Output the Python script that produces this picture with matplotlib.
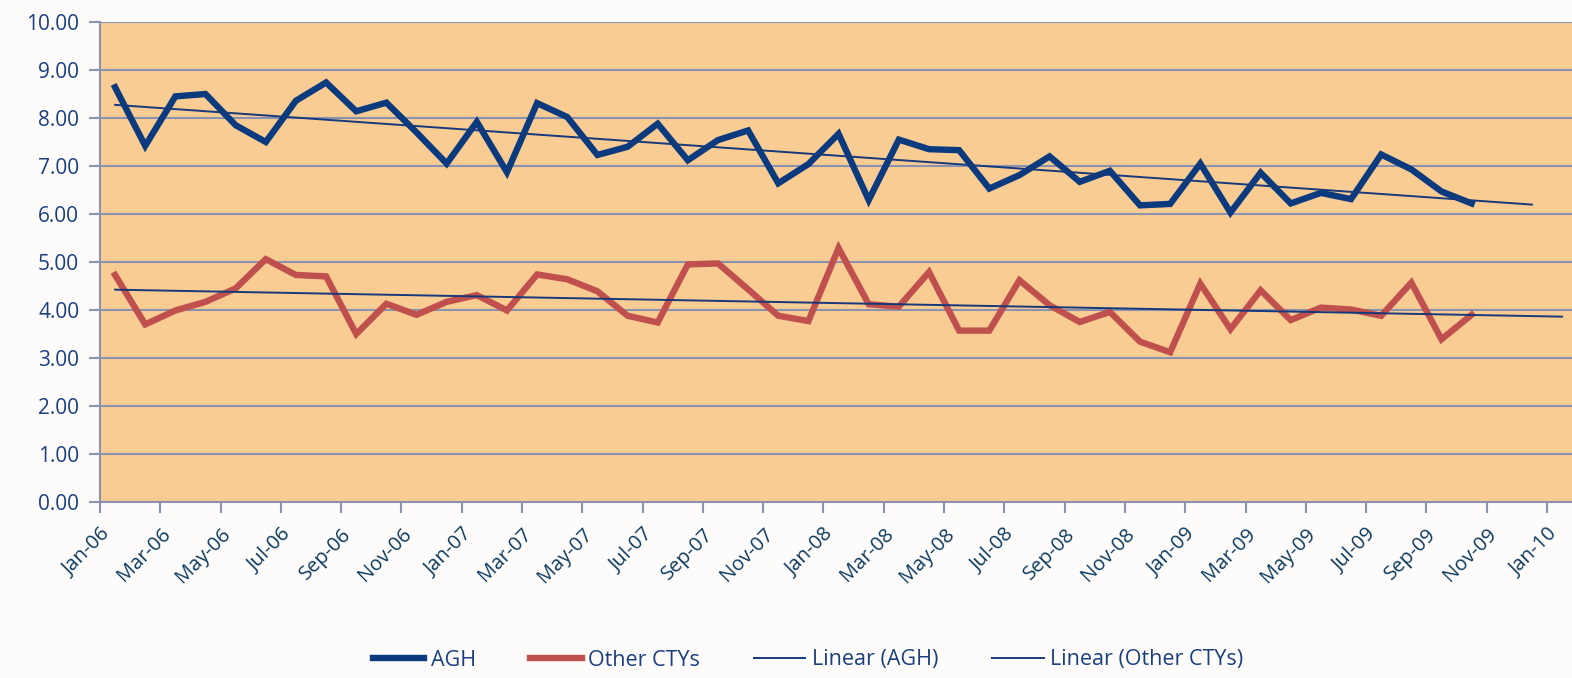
import numpy as np
import matplotlib.pyplot as plt
from matplotlib.ticker import FixedLocator, FuncFormatter

# monthly values, Jan-06 .. Oct-09
agh = [8.64, 7.42, 8.45, 8.50, 7.85, 7.50, 8.36, 8.74, 8.14, 8.32, 7.70, 7.05,
       7.92, 6.87, 8.31, 8.02, 7.23, 7.40, 7.88, 7.12, 7.54, 7.74, 6.64, 7.04,
       7.67, 6.29, 7.55, 7.35, 7.33, 6.53, 6.81, 7.20, 6.67, 6.90, 6.18, 6.21,
       7.05, 6.03, 6.86, 6.22, 6.44, 6.31, 7.24, 6.93, 6.47, 6.22]
other = [4.73, 3.70, 3.99, 4.17, 4.45, 5.06, 4.73, 4.70, 3.50, 4.13, 3.90, 4.17,
         4.31, 3.99, 4.74, 4.64, 4.39, 3.88, 3.74, 4.95, 4.97, 4.43, 3.88, 3.77,
         5.29, 4.12, 4.07, 4.79, 3.57, 3.57, 4.62, 4.10, 3.75, 3.96, 3.34, 3.12,
         4.55, 3.60, 4.41, 3.79, 4.05, 4.01, 3.88, 4.57, 3.39, 3.90]
months = ['Jan', 'Mar', 'May', 'Jul', 'Sep', 'Nov']
years = ['06', '07', '08', '09', '10']
tick_labels = [m + '-' + y for y in years for m in months][:25]

plt.rcParams['font.family'] = ['Open Sans', 'DejaVu Sans']

navy = '#0b3a7e'
red = '#c0504d'
trend_c = '#15397a'
grid_c = '#8a92ad'

fig = plt.figure(figsize=(15.72, 6.78), dpi=100, facecolor='#fefcfb')
ax = fig.add_axes([100 / 1572, 1 - 502 / 678, 1472 / 1572, 480 / 678])
ax.set_facecolor('#f9cc93')

n = len(agh)
x = np.arange(n) + 0.5

# linear trends (forecast forward)
p1 = np.polyfit(x, agh, 1)
p2 = np.polyfit(x, other, 1)
xt1 = np.array([x[0], x[-1] + 2])
xt2 = np.array([x[0], x[-1] + 3])

ax.plot(x, agh, color=navy, lw=4.6, solid_joinstyle='miter', label='AGH', zorder=3)
ax.plot(x, other, color=red, lw=4.6, solid_joinstyle='miter', label='Other CTYs', zorder=3)
ax.plot(xt1, np.polyval(p1, xt1), color=trend_c, lw=1.4, label='Linear (AGH)', zorder=4)
ax.plot(xt2, np.polyval(p2, xt2), color=trend_c, lw=1.4, label='Linear (Other CTYs)', zorder=4)

ax.set_xlim(0, 48.83)
ax.set_ylim(0, 10)
ax.set_yticks(np.arange(0, 11, 1))
ax.yaxis.set_major_formatter(FuncFormatter(lambda v, p: '%.2f' % v))
ax.xaxis.set_major_locator(FixedLocator(np.arange(0, 49, 2)))
ax.set_xticklabels(tick_labels, rotation=45, ha='right', rotation_mode='anchor',
                   color='#0d3b5e', fontsize=14.5)
ax.tick_params(axis='y', colors=grid_c, labelcolor='#1a3f80', labelsize=15,
               length=8, width=1.5, pad=7)
ax.tick_params(axis='x', colors=grid_c, labelcolor='#0d3b5e', length=8, width=1.5, pad=8)
ax.grid(axis='y', color=grid_c, lw=1.5)
ax.set_axisbelow(True)
for s in ['top', 'right']:
    ax.spines[s].set_visible(False)
for s in ['left', 'bottom']:
    ax.spines[s].set_color(grid_c)
    ax.spines[s].set_linewidth(1.5)

leg = fig.legend(loc='center', bbox_to_anchor=(0.514, 1 - 660 / 678), ncol=4,
                 frameon=False, fontsize=15.5, handlelength=2.4, handletextpad=0.3,
                 columnspacing=2.5)
for t in leg.get_texts():
    t.set_color('#1a3f80')

fig.savefig('out.png', dpi=100, facecolor=fig.get_facecolor())
